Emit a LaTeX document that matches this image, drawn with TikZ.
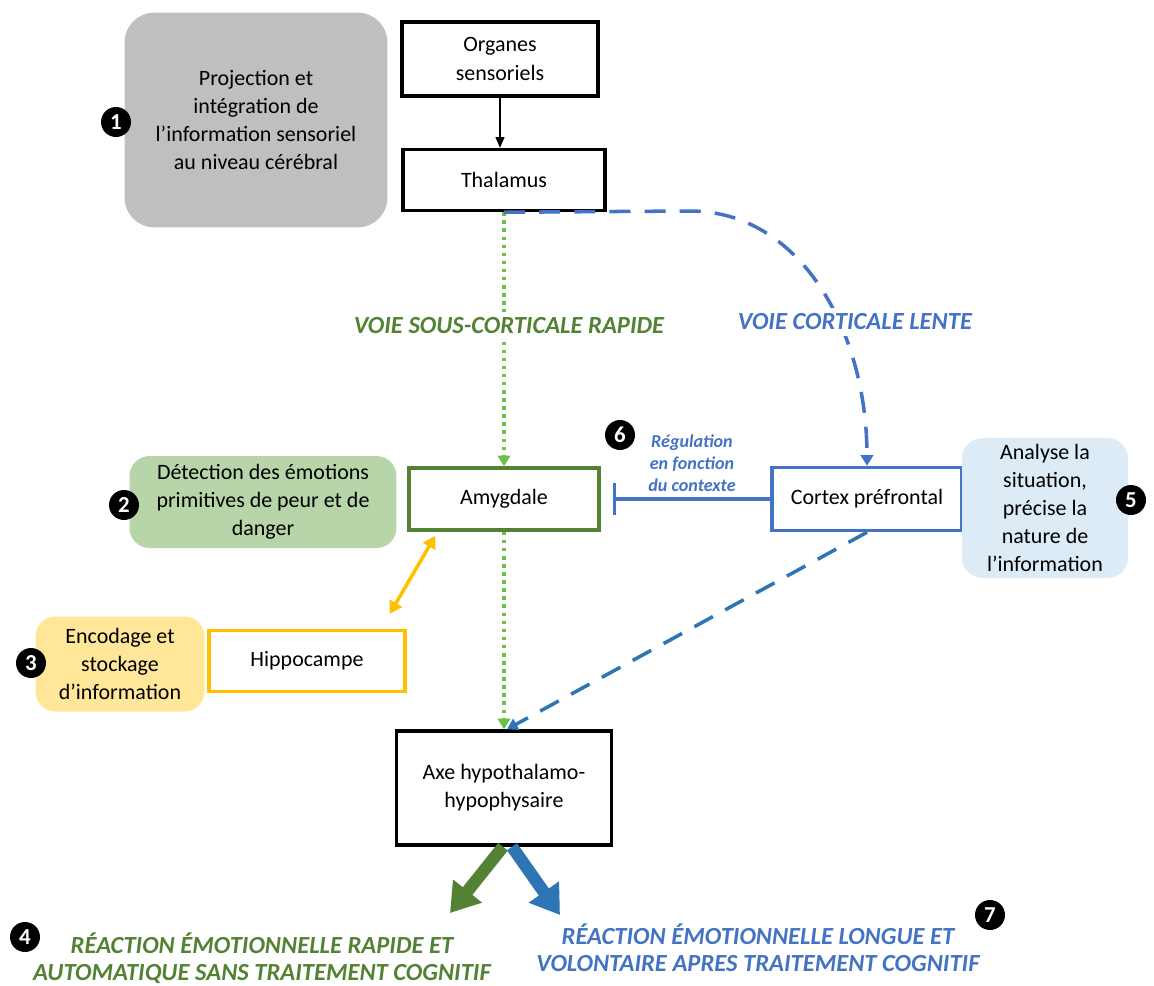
\documentclass[tikz,border=0pt]{standalone}
\usepackage{fontspec}
\setmainfont{Carlito}
\usetikzlibrary{arrows.meta}
\definecolor{grayFill}{HTML}{BFBFBF}
\definecolor{noteGreen}{HTML}{B7D5A9}
\definecolor{noteBlue}{HTML}{DDEBF7}
\definecolor{noteYellow}{HTML}{FFE699}
\definecolor{amyGreen}{HTML}{548235}
\definecolor{dotGreen}{HTML}{6CC04A}
\definecolor{ctxBlue}{HTML}{4472C4}
\definecolor{lowBlue}{HTML}{2E75B6}
\definecolor{hipYellow}{HTML}{FFC000}

\begin{document}
\begin{tikzpicture}[x = 0.02cm, y = -0.02cm]
	\tikzstyle{boxStyle} = [draw, line width = 2pt, fill = white, align = center, font = \fontsize{12.5}{16}\selectfont]
	\tikzstyle{noteStyle} = [rounded corners = 0.4cm, align = center, font = \fontsize{12.5}{16}\selectfont]
	\tikzstyle{numStyle} = [circle, fill = black, text = white, minimum size = 0.6cm, inner sep = 0pt, font = \fontsize{13}{13}\selectfont\bfseries]
	\tikzstyle{pathLabel} = [align = center, font = \fontsize{14}{15.5}\selectfont\bfseries\itshape]
	\tikzstyle{dotStyle} = [dotGreen, line width = 2pt, dash pattern = on 2pt off 2.6pt, -{Triangle[length = 6pt, width = 7pt]}]
	\tikzstyle{dashStyle} = [line width = 2pt, dash pattern = on 12pt off 8pt, -{Triangle[length = 6pt, width = 7pt]}]
	\tikzstyle{bigArrow} = [line width = 7pt, -{Triangle[length = 16pt, width = 20pt]}]
	\useasboundingbox (0,0) rectangle (1154,985);
	\node[noteStyle, fill = grayFill, rounded corners = 0.6cm, minimum width = 5.26cm, minimum height = 4.3cm] (proj) at (256,120) {Projection et\\intégration de\\l’information sensoriel\\au niveau cérébral};
	\node[numStyle] (n1) at (116,122) {1};
	\node[boxStyle, minimum width = 3.92cm, minimum height = 1.48cm] (org) at (500,59) {Organes\\sensoriels};
	\node[boxStyle, minimum width = 4.04cm, minimum height = 1.22cm] (th) at (504,180) {Thalamus};
	\node[boxStyle, draw = amyGreen, minimum width = 3.8cm, minimum height = 1.24cm] (am) at (504,499) {Amygdale};
	\node[noteStyle, fill = noteGreen, minimum width = 5.34cm, minimum height = 1.84cm] (det) at (263,502) {Détection des émotions\\primitives de peur et de\\danger};
	\node[numStyle] (n2) at (124,505) {2};
	\node[boxStyle, draw = ctxBlue, minimum width = 3.8cm, minimum height = 1.26cm] (cx) at (867,499) {Cortex préfrontal};
	\node[noteStyle, fill = noteBlue, minimum width = 3.32cm, minimum height = 2.74cm] (ana) at (1045,508) {Analyse la\\situation,\\précise la\\nature de\\l’information};
	\node[numStyle] (n5) at (1131,500) {5};
	\node[boxStyle, draw = hipYellow, minimum width = 3.92cm, minimum height = 1.22cm] (hp) at (307,661) {Hippocampe};
	\node[noteStyle, fill = noteYellow, minimum width = 3.38cm, minimum height = 1.9cm] (enc) at (120,664) {Encodage et\\stockage\\d’information};
	\node[numStyle] (n3) at (31,663) {3};
	\node[boxStyle, minimum width = 4.3cm, minimum height = 2.28cm] (axe) at (504,788) {Axe hypothalamo-\\hypophysaire};
	\coordinate (g4) at (450,913);
	\coordinate (b7) at (560,915);
	\draw[line width = 0.8pt, -{Triangle[length = 6pt, width = 5pt]}] (org.south) -- (org.south |- th.north);
	\draw[dotStyle] (th) -- (am);
	\draw[dotStyle] (am) -- (axe);
	\draw[dashStyle, ctxBlue] (th.south) -- (690,211) .. controls (800,211) and (867,330) .. (cx.north);
	\draw[dashStyle, lowBlue] (cx.south) -- ([xshift = 0.06cm]axe.north);
	\draw[ctxBlue, line width = 2pt, -{Bar[width = 18pt]}] (cx.west) -- ([xshift = 0.24cm]am.east);
	\draw[hipYellow, line width = 2pt, {Triangle[length = 7pt, width = 8pt]}-{Triangle[length = 7pt, width = 8pt]}] ([xshift = 0.56cm, yshift = -0.08cm]am.south west) -- ([xshift = -0.34cm, yshift = 0.3cm]hp.north east);
	\draw[bigArrow, amyGreen] ([xshift = -0.02cm]axe.south) -- (g4);
	\draw[bigArrow, lowBlue] ([xshift = 0.16cm]axe.south) -- (b7);
	\node[pathLabel, text = amyGreen, fill = white] (vsc) at (509,326) {VOIE SOUS-CORTICALE RAPIDE};
	\node[pathLabel, text = ctxBlue, fill = white] (vcl) at (855,322) {VOIE CORTICALE LENTE};
	\node[align = center, text = ctxBlue, font = \fontsize{10.3}{12.5}\selectfont\bfseries\itshape] (reg) at (692,463) {Régulation\\en fonction\\du contexte};
	\node[numStyle] (n6) at (620,435) {6};
	\node[numStyle] (n4) at (25,937) {4};
	\node[pathLabel, text = amyGreen] (r4) at (262,958) {RÉACTION ÉMOTIONNELLE RAPIDE ET\\AUTOMATIQUE SANS TRAITEMENT COGNITIF};
	\node[numStyle] (n7) at (990,915) {7};
	\node[pathLabel, text = ctxBlue] (r7) at (758,948) {RÉACTION ÉMOTIONNELLE LONGUE ET\\VOLONTAIRE APRES TRAITEMENT COGNITIF};
	\end{tikzpicture}
\end{document}
